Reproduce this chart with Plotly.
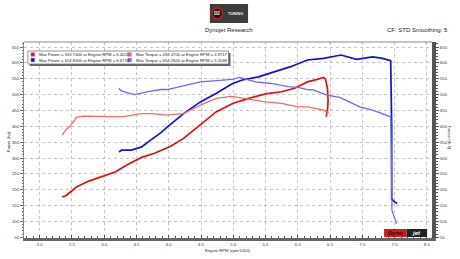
import plotly.graph_objects as go

# ---------------- data ----------------
rpm_p1 = [2.35, 2.41, 2.52, 2.57, 2.77, 2.97, 3.17, 3.37, 3.58, 3.78, 3.93, 4.03, 4.23, 4.49, 4.74, 4.99,
          5.24, 5.50, 5.75, 5.95, 6.15, 6.30, 6.40, 6.43, 6.46, 6.47, 6.46, 6.44]
hp_p1 = [177, 182, 200, 209, 228, 242, 256, 280, 302, 315, 328, 337, 362, 404, 446, 472,
         488, 502, 509, 520, 540, 548, 553.7, 548, 520, 480, 450, 430]

rpm_t1 = [2.35, 2.41, 2.47, 2.52, 2.57, 2.67, 2.97, 3.27, 3.58, 3.73, 3.98, 4.23, 4.49, 4.74, 4.97,
          5.24, 5.50, 5.75, 6.00, 6.15, 6.40, 6.47, 6.45]
tq_t1 = [372, 390, 400, 414, 428, 432, 430, 430, 440, 440, 435, 440, 467, 488, 494.5,
         485, 477, 472, 461, 461, 451, 444, 436]

rpm_p2 = [3.23, 3.27, 3.42, 3.58, 3.73, 3.88, 3.98, 4.23, 4.49, 4.74, 4.99, 5.14, 5.39, 5.64, 5.89,
          6.15, 6.40, 6.67, 6.91, 7.16, 7.31, 7.44, 7.455, 7.455, 7.48, 7.54]
hp_p2 = [319, 325, 325, 335, 358, 380, 398, 440, 477, 504, 535, 546, 556, 572, 588,
         609, 614, 624.8, 611, 619, 614, 607, 400, 172, 165, 156]

rpm_t2 = [3.23, 3.25, 3.30, 3.47, 3.68, 3.88, 3.98, 4.23, 4.49, 4.74, 4.99, 5.10, 5.34, 5.59, 5.85,
          6.00, 6.15, 6.25, 6.45, 6.65, 6.80, 6.96, 7.16, 7.31, 7.44, 7.45, 7.46, 7.53]
tq_t2 = [520, 514, 509, 500, 509, 516, 516, 527, 540, 544, 548, 554.3, 540, 535, 525,
         523, 516, 514, 498, 491, 477, 461, 451, 440, 430, 300, 135, 93]

legend_labels = [
    "Max Power = 553.7400 at Engine RPM = 6.4011",
    "Max Power = 624.8400 at Engine RPM = 6.6718",
    "Max Torque = 494.4700 at Engine RPM = 4.9717",
    "Max Torque = 554.2600 at Engine RPM = 5.1038",
]
colors = ["#e01010", "#1010dd", "#f06a6a", "#6a6af0"]

x_ticks = [2.0, 2.5, 3.0, 3.5, 4.0, 4.5, 5.0, 5.5, 6.0, 6.5, 7.0, 7.5, 8.0]
y_ticks = list(range(50, 651, 50))

# ---------------- figure ----------------
W, H = 460, 259
L, R, T, B = 20, 23, 42, 21
pw, ph = W - L - R, H - T - B


def px(x):
    return (x - L) / pw


def py(y):
    return (H - B - y) / ph


fig = go.Figure()
fig.add_trace(go.Scatter(x=rpm_p1, y=hp_p1, mode="lines", line=dict(color=colors[0], width=1.7),
                         showlegend=False, yaxis="y"))
fig.add_trace(go.Scatter(x=rpm_t1, y=tq_t1, mode="lines", line=dict(color=colors[2], width=1.3),
                         showlegend=False, yaxis="y2"))
fig.add_trace(go.Scatter(x=rpm_p2, y=hp_p2, mode="lines", line=dict(color=colors[1], width=1.7),
                         showlegend=False, yaxis="y"))
fig.add_trace(go.Scatter(x=rpm_t2, y=tq_t2, mode="lines", line=dict(color=colors[3], width=1.3),
                         showlegend=False, yaxis="y2"))

font = "Liberation Sans, Arial, sans-serif"
tickfont = dict(family=font, size=4.3, color="#333")
yr = [47.8, 665.8]

fig.update_layout(
    width=W, height=H,
    margin=dict(l=L, r=R, t=T, b=B),
    paper_bgcolor="white", plot_bgcolor="white",
    showlegend=False,
    xaxis=dict(range=[1.757, 8.08], tickvals=x_ticks, ticktext=[f"{v:.1f}" for v in x_ticks],
               tickfont=tickfont, showgrid=True, gridcolor="#c4c4c4", griddash="dot", gridwidth=1,
               zeroline=False, showline=True, linecolor="#666", linewidth=3,
               ticks="inside", ticklen=3, tickcolor="#555",
               minor=dict(dtick=0.1, ticks="inside", ticklen=2, tickcolor="#555", showgrid=False)),
    yaxis=dict(range=yr, tickvals=y_ticks, tickfont=tickfont, showgrid=True, gridcolor="#c4c4c4",
               griddash="dot", gridwidth=1, zeroline=False, showline=True, linecolor="#888", linewidth=1,
               ticks="outside", ticklen=3, tickcolor="#666",
               minor=dict(dtick=10, ticks="outside", ticklen=1.5, tickcolor="#666", showgrid=False)),
    yaxis2=dict(range=yr, tickvals=y_ticks, tickfont=tickfont, overlaying="y", side="right",
                showgrid=False, zeroline=False, showline=True, linecolor="#555", linewidth=4,
                ticks="outside", ticklen=3, tickcolor="#555",
                minor=dict(dtick=10, ticks="outside", ticklen=2, tickcolor="#555")),
)

shapes = []
annotations = []


def note(x, y, text, size, color="#222", xa="center", ya="middle", angle=0):
    annotations.append(dict(x=px(x), y=py(y), xref="paper", yref="paper", text=text,
                            showarrow=False, xanchor=xa, yanchor=ya, textangle=angle,
                            borderpad=0, font=dict(family=font, size=size, color=color)))


# top border line of plot area
shapes.append(dict(type="line", xref="paper", yref="paper", x0=0, x1=1, y0=1, y1=1,
                   line=dict(color="#888", width=1)))

# header logo
shapes.append(dict(type="rect", xref="paper", yref="paper", x0=px(210), x1=px(249), y0=py(23), y1=py(4),
                   fillcolor="#3c3c3c", line=dict(width=0), layer="above"))
shapes.append(dict(type="circle", xref="paper", yref="paper", x0=px(212), x1=px(223), y0=py(19), y1=py(8),
                   fillcolor="#1a1a1a", line=dict(color="#d01818", width=1.5), layer="above"))
note(217.5, 13.5, "<b>D2</b>", 4.5, "white")
note(236, 13.5, "<b>TUNING</b>", 4, "#eee")

note(230, 29.5, "Dynojet Research", 6)
note(454, 29.5, "CF: STD Smoothing: 5", 6, xa="right")

# axis titles
note(228.5, 250.5, "Engine RPM (rpm/1000)", 4.2, "#333")
note(4, 142, "Power (hp)", 4.2, "#333", angle=-90)
note(455, 137, "Torque (lb-ft)", 4.2, "#333", angle=90)

# legend box (with shadow)
shapes.append(dict(type="rect", xref="paper", yref="paper", x0=px(26), x1=px(231), y0=py(66), y1=py(53),
                   fillcolor="#666", line=dict(width=0), layer="above"))
shapes.append(dict(type="rect", xref="paper", yref="paper", x0=px(24), x1=px(229), y0=py(64), y1=py(51),
                   fillcolor="white", line=dict(color="#777", width=0.8), layer="above"))
leg_pos = [(29, 54.5), (29, 60), (128, 54.5), (128, 60)]
for (lx, ly), lab, col in zip(leg_pos, legend_labels, colors):
    shapes.append(dict(type="rect", xref="paper", yref="paper", x0=px(lx - 2), x1=px(lx + 2),
                       y0=py(ly + 2), y1=py(ly - 2), fillcolor=col, line=dict(color="#bbb", width=0.5),
                       layer="above"))
    note(lx + 5, ly, lab, 4.2, xa="left")

# Dynojet logo bottom right
shapes.append(dict(type="rect", xref="paper", yref="paper", x0=px(388), x1=px(411), y0=py(237), y1=py(229),
                   fillcolor="#d81818", line=dict(width=0), layer="above"))
shapes.append(dict(type="rect", xref="paper", yref="paper", x0=px(411), x1=px(432), y0=py(237), y1=py(229),
                   fillcolor="#222", line=dict(width=0), layer="above"))
note(399.5, 233, "<b><i>Dyno</i></b>", 6, "#111")
note(421.5, 233, "<b><i>jet</i></b>", 6, "white")

fig.update_layout(shapes=shapes, annotations=annotations)
fig.write_html("out.html")
